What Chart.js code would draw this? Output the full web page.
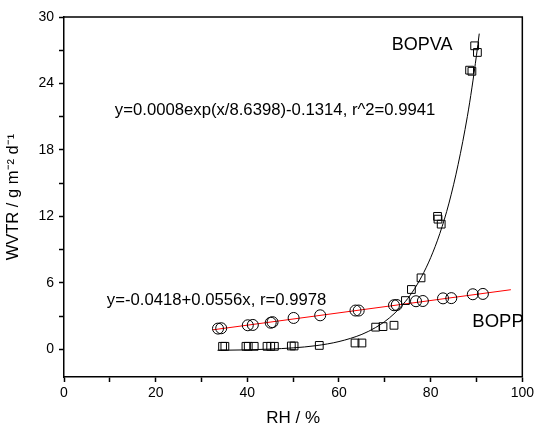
<!DOCTYPE html>
<html>
<head>
<meta charset="utf-8">
<script src="https://cdn.jsdelivr.net/npm/chart.js@4.4.1/dist/chart.umd.min.js"></script>
<style>
  body { margin: 0; background: #fff; }
  #wrap { width: 537px; height: 429px; }
</style>
</head>
<body>
<div id="wrap"><canvas id="wvtrChart" width="537" height="429"></canvas></div>
<script>
// BOPVA film (squares)
var bopvaRH   = [34.6, 35.1, 39.7, 40.2, 41.5, 44.3, 45.1, 45.9, 49.6, 50.2, 55.7, 63.5, 65.0, 68.0, 69.6, 72.0, 74.5, 75.8, 77.9, 81.5, 81.6, 82.3, 88.5, 89.0, 89.6, 90.2];
var bopvaWVTR = [0.27, 0.27, 0.27, 0.27, 0.27, 0.27, 0.27, 0.27, 0.30, 0.30, 0.35, 0.57, 0.57, 2.00, 2.05, 2.17, 4.40, 5.40, 6.45, 12.0, 11.75, 11.3, 25.2, 25.1, 27.4, 26.8];

// BOPP film (circles)
var boppRH   = [33.6, 34.3, 40.1, 41.2, 45.1, 45.5, 50.1, 55.9, 63.6, 64.3, 72.0, 72.6, 76.8, 78.3, 82.7, 84.5, 89.2, 91.4];
var boppWVTR = [1.87, 1.90, 2.17, 2.20, 2.40, 2.45, 2.83, 3.07, 3.50, 3.50, 3.98, 4.00, 4.34, 4.36, 4.60, 4.62, 4.97, 5.00];

// fitted curves
var expFitRH   = [33.5, 40, 45, 50, 55, 60, 65, 68, 70, 72, 74, 76, 78, 80, 82, 84, 86, 88, 89, 90, 90.6];
var expFitWVTR = [-0.09, -0.05, 0.02, 0.13, 0.33, 0.70, 1.35, 1.97, 2.51, 3.20, 4.07, 5.16, 6.54, 8.27, 10.45, 13.2, 16.7, 21.0, 23.6, 26.55, 28.5];
var linFitRH   = [32.5, 97.5];
var linFitWVTR = [1.76, 5.38];

var xTicks = [0, 20, 40, 60, 80, 100];
var yTicks = [0, 6, 12, 18, 24, 30];

var notes = [
  { text: 'BOPVA', x: 71.5, y: 27.5, size: 18 },
  { text: 'y=0.0008exp(x/8.6398)-0.1314, r^2=0.9941', x: 11.1, y: 21.6, size: 16.7 },
  { text: 'y=-0.0418+0.0556x, r=0.9978', x: 9.35, y: 4.43, size: 16.7 },
  { text: 'BOPP', x: 89.1, y: 2.44, size: 18.5 }
];

function pts(xs, ys) {
  return xs.map(function (v, i) { return { x: v, y: ys[i] }; });
}

var FONT = "'Liberation Sans', Arial, sans-serif";

var framePlugin = {
  id: 'frame',
  afterDraw: function (chart) {
    var a = chart.chartArea, ctx = chart.ctx;
    ctx.save();
    ctx.strokeStyle = '#000';
    ctx.lineWidth = 1.5;
    ctx.beginPath();
    ctx.moveTo(a.left, a.top);
    ctx.lineTo(a.right, a.top);
    ctx.lineTo(a.right, a.bottom);
    ctx.stroke();
    ctx.restore();
  }
};

var notesPlugin = {
  id: 'notes',
  afterDatasetsDraw: function (chart) {
    var ctx = chart.ctx, xs = chart.scales.x, ys = chart.scales.y;
    ctx.save();
    ctx.fillStyle = '#000';
    ctx.textBaseline = 'middle';
    ctx.textAlign = 'left';
    notes.forEach(function (n) {
      ctx.font = n.size + 'px ' + FONT;
      ctx.fillText(n.text, xs.getPixelForValue(n.x), ys.getPixelForValue(n.y));
    });
    ctx.restore();
  }
};

new Chart(document.getElementById('wvtrChart'), {
  type: 'scatter',
  data: {
    datasets: [{
      label: 'BOPVA',
      data: pts(bopvaRH, bopvaWVTR),
      pointStyle: 'rect',
      pointRadius: 5.5,
      borderColor: '#000',
      backgroundColor: 'rgba(0,0,0,0)',
      borderWidth: 1
    }, {
      label: 'BOPP',
      data: pts(boppRH, boppWVTR),
      pointStyle: 'circle',
      pointRadius: 5.5,
      borderColor: '#000',
      backgroundColor: 'rgba(0,0,0,0)',
      borderWidth: 1
    }, {
      label: 'exp fit',
      data: pts(expFitRH, expFitWVTR),
      showLine: true,
      pointRadius: 0,
      borderColor: '#000',
      borderWidth: 1,
      cubicInterpolationMode: 'monotone'
    }, {
      label: 'linear fit',
      data: pts(linFitRH, linFitWVTR),
      showLine: true,
      pointRadius: 0,
      borderColor: '#ff0000',
      borderWidth: 1
    }]
  },
  options: {
    responsive: false,
    animation: false,
    layout: { padding: { top: 17, right: 13, left: 0, bottom: 0 } },
    plugins: {
      legend: { display: false },
      tooltip: { enabled: false }
    },
    scales: {
      x: {
        type: 'linear',
        min: 0, max: 100,
        afterFit: function (s) { s.height = 52; },
        ticks: {
          stepSize: 10,
          maxRotation: 0,
          padding: 3,
          color: '#000',
          font: { family: FONT, size: 14 },
          callback: function (v) { return xTicks.indexOf(v) >= 0 ? String(v) : ''; }
        },
        grid: { drawOnChartArea: false, tickLength: 5, tickColor: '#000', tickWidth: 1.5 },
        border: { color: '#000', width: 1.5 },
        title: { display: true, text: 'RH / %', color: '#000', font: { family: FONT, size: 17 }, padding: { top: 4, bottom: 0 } }
      },
      y: {
        type: 'linear',
        min: -2.5, max: 30,
        afterFit: function (s) { s.width = 64; },
        ticks: {
          stepSize: 3,
          includeBounds: false,
          padding: 5,
          color: '#000',
          font: { family: FONT, size: 14 },
          callback: function (v) { return yTicks.indexOf(v) >= 0 ? String(v) : ''; }
        },
        grid: { drawOnChartArea: false, tickLength: 5, tickColor: '#000', tickWidth: 1.5 },
        border: { color: '#000', width: 1.5 },
        title: { display: true, text: 'WVTR / g m\u207B\u00B2 d\u207B\u00B9', color: '#000', font: { family: FONT, size: 16.5 }, padding: { top: 4, bottom: 0 } }
      }
    }
  },
  plugins: [framePlugin, notesPlugin]
});
</script>
</body>
</html>
